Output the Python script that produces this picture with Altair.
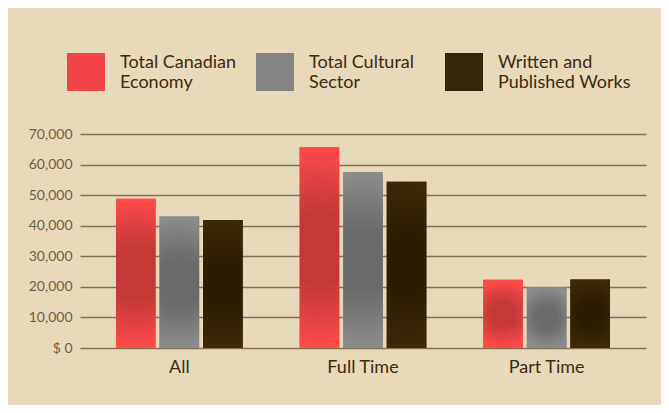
import altair as alt
import pandas as pd

categories = ["All", "Full Time", "Part Time"]
series = ["Total Canadian Economy", "Total Cultural Sector", "Written and Published Works"]
canadian = [48800, 65700, 22300]
cultural = [43000, 57600, 19900]
written = [41900, 54400, 22400]

edge_colors = ["#FF4A4A", "#8C8C8C", "#3B2908"]
center_colors = ["#C43838", "#6A6A6A", "#2C1C04"]
legend_colors = ["#F24444", "#848484", "#36260A"]

rows = []
for s, vals in zip(series, [canadian, cultural, written]):
    for c, v in zip(categories, vals):
        rows.append({"category": c, "series": s, "value": v})
df = pd.DataFrame(rows)

def grad(center, edge):
    return {"gradient": "radial",
            "stops": [{"offset": 0, "color": center},
                      {"offset": 0.35, "color": center},
                      {"offset": 1, "color": edge}]}

x_enc = alt.X("category:N", sort=categories, title=None,
              scale=alt.Scale(paddingInner=0.31, paddingOuter=0.196),
              axis=alt.Axis(domain=False, ticks=False, labelAngle=0, labelFontSize=18,
                            labelFont="Lato", labelColor="#3A2A10", labelPadding=10))
xo_enc = alt.XOffset("series:N", sort=series,
                     scale=alt.Scale(domain=series, paddingInner=0.09, paddingOuter=0))
y_enc = alt.Y("value:Q", title=None,
              scale=alt.Scale(domain=[0, 70000], nice=False),
              axis=alt.Axis(values=list(range(0, 70001, 10000)), domain=False, ticks=False,
                            labelFontSize=14, labelFont="Lato", labelColor="#6E5E45",
                            labelPadding=8, gridColor="#86714F", gridWidth=1.5,
                            labelExpr="datum.value == 0 ? '$ 0' : format(datum.value, ',')"))

label_expr = ("datum.label == 'Total Canadian Economy' ? ['Total Canadian', 'Economy'] : "
              "datum.label == 'Total Cultural Sector' ? ['Total Cultural', 'Sector'] : "
              "['Written and', 'Published Works']")

base = alt.Chart(df).mark_bar().encode(
    x=x_enc, xOffset=xo_enc, y=y_enc,
    color=alt.Color("series:N", sort=series,
                    scale=alt.Scale(domain=series, range=legend_colors),
                    legend=alt.Legend(title=None, orient="none", legendX=-13, legendY=-81,
                                      direction="horizontal", columns=3, gridAlign="all",
                                      symbolType="square", symbolSize=1444, symbolStrokeWidth=0,
                                      symbolOpacity=1, labelBaseline="bottom",
                                      labelFontSize=18, labelFont="Lato", labelColor="#3A2A10",
                                      labelOffset=15, columnPadding=3, labelLimit=220,
                                      padding=0, labelExpr=label_expr)),
)

layers = [base]
for s, cc, ec in zip(series, center_colors, edge_colors):
    layers.append(
        alt.Chart(df).transform_filter(alt.datum.series == s).mark_bar(
            fill=grad(cc, ec)
        ).encode(x=x_enc, xOffset=xo_enc, y=y_enc)
    )

chart = alt.layer(*layers).properties(
    width=566, height=214,
    background="#E9D9BB",
    padding={"left": 72, "top": 126, "right": 15, "bottom": 57},
    autosize=alt.AutoSizeParams(type="none"),
).configure_view(stroke=None)

chart.save("out.html", embed_options={"renderer": "svg", "actions": False})
